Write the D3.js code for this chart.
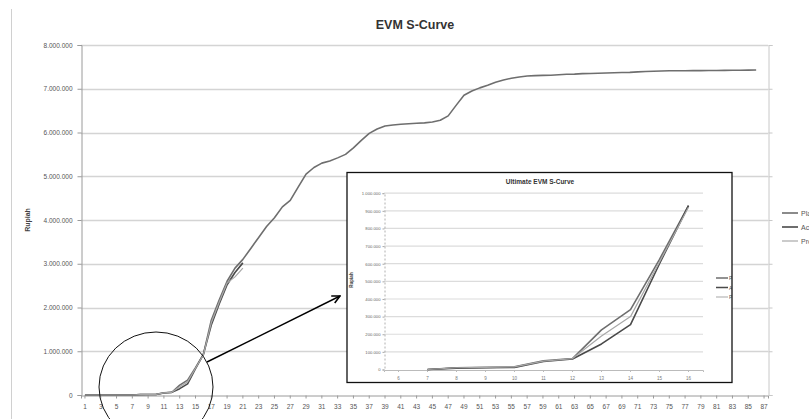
<!DOCTYPE html>
<html>
<head>
<meta charset="utf-8">
<script src="https://cdn.jsdelivr.net/npm/d3@7"></script>
<style>
  html, body { margin: 0; padding: 0; background: #fff; }
  svg { display: block; font-family: "Liberation Sans", Arial, sans-serif; }
</style>
</head>
<body>
<svg id="chart" width="809" height="419"></svg>
<script>
// Weekly cumulative values in Rupiah
const weeks = d3.range(1, 88);                  // category axis 1..87
const weekLabels = weeks.filter(w => w % 2 === 1);

const plannedValue = [
  0, 0, 0, 0, 0, 0, 0, 10000, 12000, 15000,
  50000, 62000, 225000, 340000, 625000, 930000, 1710000, 2170000, 2600000, 2900000,
  3100000, 3350000, 3600000, 3850000, 4050000, 4300000, 4450000, 4750000, 5050000, 5200000,
  5300000, 5350000, 5420000, 5500000, 5650000, 5820000, 5980000, 6080000, 6150000, 6170000,
  6190000, 6200000, 6210000, 6220000, 6240000, 6280000, 6380000, 6620000, 6850000, 6950000,
  7020000, 7080000, 7150000, 7200000, 7240000, 7270000, 7290000, 7300000, 7305000, 7310000,
  7320000, 7330000, 7335000, 7345000, 7350000, 7355000, 7360000, 7365000, 7370000, 7375000,
  7385000, 7395000, 7400000, 7405000, 7410000, 7410000, 7412000, 7414000, 7415000, 7416000,
  7418000, 7420000, 7422000, 7424000, 7426000, 7430000
];
const actualCost = [
  0, 0, 0, 0, 0, 0, 0, 8000, 10000, 12000,
  45000, 60000, 145000, 255000, 600000, 930000, 1600000, 2080000, 2520000, 2800000,
  3020000
];
const progressValue = [
  0, 0, 0, 0, 0, 0, 0, 10000, 12000, 15000,
  48000, 62000, 190000, 300000, 610000, 920000, 1650000, 2120000, 2560000, 2700000,
  2900000
];

const seriesNames = ["Planned Value", "Actual Cost", "Progress Value"];
const yTicks = d3.range(0, 8000001, 1000000);

// Zoomed detail: weeks 6..16, lines start at week 7
const insetWeeks = d3.range(6, 17);
const insetFirstWeek = 7;
const insetTicks = d3.range(0, 1000001, 100000);

const seriesData = [plannedValue, actualCost, progressValue];
const seriesStyle = [
  { color: "#6e6e6e", width: 1.6 },
  { color: "#4a4a4a", width: 1.6 },
  { color: "#a8a8a8", width: 1.2 }
];

const idn = d3.formatLocale({ decimal: ",", thousands: ".", grouping: [3], currency: ["Rp", ""] });
const fmt = idn.format(",");

const svg = d3.select("#chart");

// chart frame edge
svg.append("line").attr("x1", 11.5).attr("x2", 11.5).attr("y1", 9).attr("y2", 419)
  .attr("stroke", "#d0d0d0");

// ---- main chart ----
const x = d3.scaleBand().domain(weeks).range([81, 768]).padding(0);
const y = d3.scaleLinear().domain([0, 8000000]).range([395, 45]);
const cx = w => x(w) + x.bandwidth() / 2;

const main = svg.append("g");

main.append("g").selectAll("line").data(yTicks.slice(1)).join("line")
  .attr("x1", 81).attr("x2", 768)
  .attr("y1", d => Math.round(y(d)) + 0.5).attr("y2", d => Math.round(y(d)) + 0.5)
  .attr("stroke", "#d4d4d4").attr("stroke-width", 1.3);

// left value axis
const yAxis = main.append("g").attr("transform", "translate(81.5,0)")
  .call(d3.axisLeft(y).tickValues(yTicks).tickFormat(fmt).tickSize(4).tickPadding(5));
yAxis.select(".domain").attr("stroke", "#9a9a9a");
yAxis.selectAll(".tick line").attr("stroke", "#9a9a9a");
yAxis.selectAll("text").attr("font-size", 6.5).attr("fill", "#555");

// right edge with tick marks
const yRight = main.append("g").attr("transform", "translate(768.5,0)")
  .call(d3.axisRight(y).tickValues(yTicks).tickFormat("").tickSize(4));
yRight.select(".domain").attr("stroke", "#c8c8c8");
yRight.selectAll(".tick line").attr("stroke", "#c8c8c8");

// category axis
const xAxis = main.append("g").attr("transform", "translate(0,395.5)")
  .call(d3.axisBottom(x).tickValues(weekLabels).tickSize(3).tickPadding(6));
xAxis.select(".domain").attr("stroke", "#9a9a9a");
xAxis.selectAll(".tick line").attr("stroke", "#9a9a9a");
xAxis.selectAll("text").attr("font-size", 6.5).attr("fill", "#555");

const line = d3.line().x((d, i) => cx(weeks[i])).y(d => y(d));
seriesData.forEach((arr, k) => {
  main.append("path").datum(arr)
    .attr("d", line)
    .attr("fill", "none")
    .attr("stroke", seriesStyle[k].color)
    .attr("stroke-width", seriesStyle[k].width)
    .attr("stroke-linejoin", "round");
});

svg.append("text").attr("x", 415).attr("y", 29).attr("text-anchor", "middle")
  .attr("font-size", 12.5).attr("font-weight", "bold").attr("fill", "#333")
  .text("EVM S-Curve");

svg.append("text").attr("transform", "translate(30,220) rotate(-90)")
  .attr("text-anchor", "middle").attr("font-size", 7).attr("font-weight", "bold")
  .attr("fill", "#444").text("Rupiah");

// main legend (runs off the right edge of the frame)
const legend = svg.append("g");
seriesNames.forEach((name, k) => {
  const ly = 213 + k * 14;
  legend.append("line").attr("x1", 782).attr("x2", 798).attr("y1", ly).attr("y2", ly)
    .attr("stroke", seriesStyle[k].color).attr("stroke-width", seriesStyle[k].width);
  legend.append("text").attr("x", 801).attr("y", ly + 2.5).attr("font-size", 7)
    .attr("fill", "#555").text(name);
});

// ---- highlight ring and pointer ----
svg.append("defs").append("marker")
  .attr("id", "arrowHead").attr("viewBox", "0 0 10 10").attr("refX", 9).attr("refY", 5)
  .attr("markerWidth", 7).attr("markerHeight", 7).attr("orient", "auto")
  .append("path").attr("d", "M1,1 L9,5 L1,9").attr("fill", "none")
  .attr("stroke", "#000").attr("stroke-width", 1.6);

svg.append("ellipse").attr("cx", 156).attr("cy", 387).attr("rx", 57).attr("ry", 55)
  .attr("fill", "none").attr("stroke", "#111").attr("stroke-width", 1);

svg.append("line").attr("x1", 207).attr("y1", 362).attr("x2", 340).attr("y2", 296)
  .attr("stroke", "#000").attr("stroke-width", 1.4).attr("marker-end", "url(#arrowHead)");

// ---- inset detail chart ----
const box = { x: 347, y: 172.5, w: 385, h: 210 };
svg.append("defs").append("clipPath").attr("id", "insetClip")
  .append("rect").attr("x", box.x).attr("y", box.y).attr("width", box.w).attr("height", box.h);

const inset = svg.append("g").attr("clip-path", "url(#insetClip)");
inset.append("rect").attr("x", box.x).attr("y", box.y).attr("width", box.w).attr("height", box.h)
  .attr("fill", "#fff");

const ix = d3.scaleBand().domain(insetWeeks).range([384, 703]).padding(0);
const iy = d3.scaleLinear().domain([0, 1000000]).range([369.5, 193.2]);
const icx = w => ix(w) + ix.bandwidth() / 2;

inset.append("g").selectAll("line").data(insetTicks.slice(1)).join("line")
  .attr("x1", 384).attr("x2", 703)
  .attr("y1", d => iy(d)).attr("y2", d => iy(d))
  .attr("stroke", "#dcdcdc").attr("stroke-width", 1.2);

const iyAxis = inset.append("g").attr("transform", "translate(384.5,0)")
  .call(d3.axisLeft(iy).tickValues(insetTicks).tickFormat(fmt).tickSize(2).tickPadding(2));
iyAxis.select(".domain").attr("stroke", "#b0b0b0").attr("stroke-dasharray", "2,2");
iyAxis.selectAll(".tick line").attr("stroke", "#aaa");
iyAxis.selectAll("text").attr("font-size", 4.2).attr("fill", "#666");

const ixAxis = inset.append("g").attr("transform", "translate(0,370)")
  .call(d3.axisBottom(ix).tickSize(2).tickPadding(5));
ixAxis.select(".domain").attr("stroke", "#bbb");
ixAxis.selectAll(".tick line").attr("stroke", "#bbb");
ixAxis.selectAll("text").attr("font-size", 4.5).attr("fill", "#777");

const insetLine = d3.line().x(d => icx(d.w)).y(d => iy(d.v));
seriesData.forEach((arr, k) => {
  const pts = insetWeeks.filter(w => w >= insetFirstWeek && w <= arr.length)
    .map(w => ({ w, v: arr[w - 1] }));
  inset.append("path").datum(pts)
    .attr("d", insetLine)
    .attr("fill", "none")
    .attr("stroke", seriesStyle[k].color)
    .attr("stroke-width", seriesStyle[k].width)
    .attr("stroke-linejoin", "round");
});

inset.append("text").attr("x", 540).attr("y", 184).attr("text-anchor", "middle")
  .attr("font-size", 6.5).attr("font-weight", "bold").attr("fill", "#333")
  .text("Ultimate EVM S-Curve");

inset.append("text").attr("transform", "translate(353,280) rotate(-90)")
  .attr("text-anchor", "middle").attr("font-size", 4.5).attr("font-weight", "bold")
  .attr("fill", "#444").text("Rupiah");

seriesNames.forEach((name, k) => {
  const ly = 278 + k * 9.5;
  inset.append("line").attr("x1", 716).attr("x2", 728).attr("y1", ly).attr("y2", ly)
    .attr("stroke", seriesStyle[k].color).attr("stroke-width", seriesStyle[k].width);
  inset.append("text").attr("x", 729).attr("y", ly + 2).attr("font-size", 5)
    .attr("fill", "#555").text(name);
});

svg.append("rect").attr("x", box.x).attr("y", box.y).attr("width", box.w).attr("height", box.h)
  .attr("fill", "none").attr("stroke", "#111").attr("stroke-width", 1.3);
</script>
</body>
</html>
